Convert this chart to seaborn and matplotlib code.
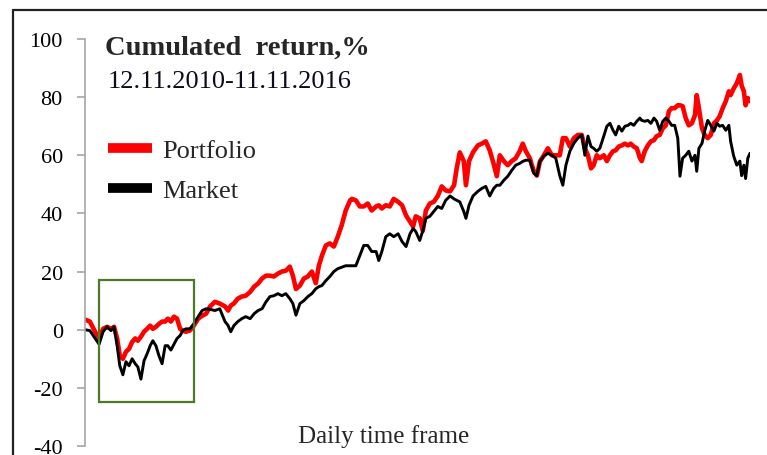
import numpy as np
import pandas as pd
import matplotlib
matplotlib.use("Agg")
import matplotlib.pyplot as plt
from matplotlib.lines import Line2D
from matplotlib.patches import Rectangle
import seaborn as sns

# trading day index (12.11.2010 -> 11.11.2016)
day = [0, 11, 23, 32, 41, 50, 59, 66, 73, 79, 86, 93, 100, 107, 114, 120, 127, 134, 141, 148,
       154, 161, 168, 175, 182, 188, 195, 202, 209, 216, 222, 229, 238, 247, 257, 266, 275, 284, 295, 306,
       318, 325, 331, 338, 347, 356, 365, 375, 384, 393, 402, 411, 420, 429, 438, 447, 456, 465, 472, 479,
       488, 497, 506, 515, 524, 531, 538, 547, 556, 565, 574, 583, 592, 602, 606, 615, 624, 633, 642, 651,
       661, 667, 674, 683, 692, 701, 711, 720, 729, 738, 745, 751, 760, 767, 774, 783, 792, 801, 810, 819,
       829, 838, 844, 851, 860, 865, 872, 881, 892, 901, 910, 919, 928, 935, 942, 951, 960, 969, 978, 987,
       994, 1001, 1010, 1019, 1026, 1033, 1042, 1051, 1060, 1069, 1078, 1085, 1092, 1101, 1110, 1119, 1128, 1135, 1142, 1149,
       1155, 1162, 1169, 1178, 1185, 1192, 1199, 1205, 1212, 1219, 1226, 1233, 1239, 1246, 1253, 1260, 1264, 1271, 1278, 1285,
       1292, 1298, 1305, 1312, 1319, 1326, 1332, 1339, 1346, 1351, 1357, 1364, 1371, 1378, 1385, 1389, 1394, 1401, 1407, 1414,
       1421, 1428, 1435, 1441, 1448, 1455, 1462, 1466, 1473, 1480, 1487, 1491, 1496, 1500, 1505, 1510]

portfolio = [3.5, 2.8, -0.7, -3, 0.3, 1, 0.3, 1, -3, -9, -10, -7.6, -6.6, -4.2, -3, -3.8, -2.4, -0.7, 0.3, 1.4,
             0.3, 1, 2, 2.8, 2.8, 3.8, 2.8, 4.5, 3.8, 0.3, -0.3, -0.7, -0.3, 1.4, 3.8, 4.8, 5.5, 8, 9.6, 9,
             8, 6.6, 8.3, 9, 10.7, 11.4, 11.7, 13, 14.8, 15.9, 17.6, 18.6, 18.6, 18.3, 19.3, 20, 20.3, 21.7, 18.6, 14,
             15.2, 17.6, 18.3, 20, 16, 22, 25.5, 29, 29.7, 28.6, 32, 36, 41, 44.5, 45, 44.5, 42.4, 42.4, 43.4, 41,
             42.4, 42.8, 41.7, 42.8, 42.4, 45, 44, 42.8, 39.3, 37.2, 35.5, 39, 38.3, 34, 41, 43.4, 44, 46, 49.3, 47.9,
             47.6, 49.7, 55.5, 61, 58, 49.7, 58, 61, 63.4, 64, 64.8, 61.7, 57, 52.8, 60, 58, 56.6, 58, 59, 61.4,
             64, 61.4, 59, 54.5, 53, 57.9, 60, 62.4, 60, 60, 60, 65.9, 65.9, 63, 65.9, 67, 67, 62.4, 60, 55.5,
             56.6, 60, 59, 60, 58, 60, 61.4, 61.7, 63, 63.4, 64, 63.4, 64, 63, 62.4, 59, 58, 61.4, 63.4, 64.8,
             65.2, 66.6, 67, 69.3, 70.3, 75.2, 76.2, 76.2, 77.2, 77.2, 76.9, 72.8, 70.3, 71, 73.8, 80.7, 76.2, 69.3, 67, 65.9,
             67, 71, 72, 73.4, 76.2, 78.6, 82, 80.7, 83, 84.8, 87.6, 84, 82, 77.2, 79.7, 78.6]

market = [0, -0.3, -3, -5, -0.7, 1, -0.3, 1, -5.5, -12.4, -15.5, -11, -12.4, -10, -11.7, -12.8, -17, -10.7, -8.3, -5.5,
          -3.8, -5.5, -9, -11.7, -5.5, -5.5, -7, -5, -3, -2, -0.3, 0.3, 0.3, 2, 4.5, 6.6, 7.2, 7, 6.6, 7.2,
          2.8, 1.4, -0.7, 1.4, 2.8, 3.8, 4.5, 3.8, 5.5, 6.6, 7.2, 9.6, 11.4, 11.7, 12.4, 11.7, 12.4, 10.7, 9, 5,
          9, 10, 11.4, 12.4, 14.1, 14.8, 15.2, 16.9, 18.3, 20, 21, 21.5, 22, 22, 22, 22, 25.5, 29, 29, 26.9,
          26.9, 23.8, 26.9, 32, 33, 32, 33, 30.3, 28.6, 33, 34.8, 33.8, 30.7, 34, 38.3, 39, 40.7, 42.4, 41.7, 44.5,
          46, 45, 44.5, 44, 40.7, 38.3, 42.8, 46, 47.6, 48.6, 49.3, 46, 48.6, 49.7, 49.7, 51.4, 52.8, 54.8, 56.6, 57.2,
          57.9, 58.3, 58.3, 53.8, 53, 57.9, 59.7, 60.7, 60, 59, 53, 49.7, 56.6, 61.4, 64.1, 65.9, 67, 60, 66.6, 63,
          62.4, 61.4, 62.4, 66.6, 70, 71, 68.6, 67, 70, 68.3, 70, 70.3, 71, 70.3, 71.7, 72.8, 72, 71.7, 72, 71,
          72.8, 71.7, 68.6, 71.7, 72.8, 71.7, 70.3, 70.3, 65.9, 52.8, 59, 60, 61.4, 58, 60, 54.5, 62.4, 64.1, 68.3, 72,
          70.3, 68.3, 71, 70, 70.3, 68.6, 70.3, 64.8, 59.7, 56.6, 58, 53, 56.6, 52, 59, 60.7]

series_names = ["Portfolio", "Market"]
series_colors = ["#ff0000", "#000000"]
y_ticks = [-40, -20, 0, 20, 40, 60, 80, 100]

W, H = 767, 456
serif = ["Liberation Serif", "DejaVu Serif"]

sns.set_style("white")
plt.rcParams["font.family"] = serif

df = pd.DataFrame({"day": day * 2,
                   "ret": portfolio + market,
                   "series": [series_names[0]] * len(day) + [series_names[1]] * len(day)})

fig = plt.figure(figsize=(W / 100, H / 100), dpi=100)
ax = fig.add_axes([85 / W, 1 - 447 / H, (750 - 85) / W, (447 - 40) / H])

sns.lineplot(data=df[df.series == "Portfolio"], x="day", y="ret", color=series_colors[0],
             lw=3.3, ax=ax, legend=False)
sns.lineplot(data=df[df.series == "Market"], x="day", y="ret", color=series_colors[1],
             lw=2.1, ax=ax, legend=False)

ax.set_xlim(0, 1510)
ax.set_ylim(-40, 100)
ax.set_yticks(y_ticks)
ax.set_yticklabels([str(t) for t in y_ticks], fontsize=16)
ax.set_xticks([])
ax.set_xlabel("")
ax.set_ylabel("")
for s in ["top", "right", "bottom"]:
    ax.spines[s].set_visible(False)
ax.spines["left"].set_color("#a6a6a6")
ax.spines["left"].set_linewidth(1.2)
ax.tick_params(axis="y", direction="out", length=6, width=1.2, color="#a6a6a6", pad=10,
               labelcolor="black", left=True)

# green box around the 2011 drawdown
ax.add_patch(Rectangle((32, -25), 215, 42, fill=False, ec="#4e7a27", lw=1.6, zorder=5))

# texts
fig.text(105 / W, 1 - 55 / H, "Cumulated  return,%", fontsize=20.5, fontweight="bold",
         va="baseline", ha="left")
fig.text(108 / W, 1 - 88 / H, "12.11.2010-11.11.2016", fontsize=19, va="baseline",
         ha="left", color="#0d0d1a")
fig.text(298 / W, 1 - 443 / H, "Daily time frame", fontsize=18, va="baseline", ha="left")

handles = [Line2D([], [], color=c, lw=7, solid_capstyle="butt") for c in series_colors]
ax.legend(handles, series_names, loc="upper left", bbox_to_anchor=(108 / W, 1 - 140 / H),
          bbox_transform=fig.transFigure, frameon=False, fontsize=19, borderpad=0,
          borderaxespad=0, handlelength=1.65, handletextpad=0.42, labelspacing=0.6)

# outer frame
fig.add_artist(Line2D([13 / W, 13 / W], [0, 1 - 11 / H], color="#222222", lw=1.6))
fig.add_artist(Line2D([13 / W, 1], [1 - 11 / H, 1 - 11 / H], color="#222222", lw=1.6))

fig.savefig("out.png", dpi=100)
